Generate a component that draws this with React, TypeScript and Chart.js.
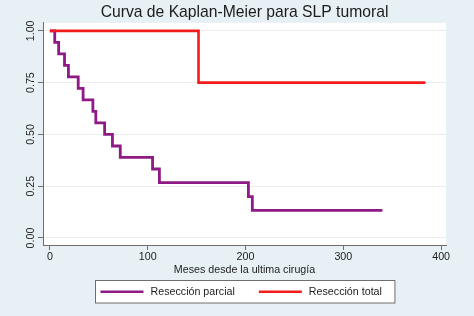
import React, { useEffect, useRef } from "react";
import { Chart, registerables } from "chart.js";

Chart.register(...registerables);

// Kaplan-Meier estimates: event times (months) and survival after each step
const parcialMeses = [0, 5, 9, 15, 19, 29, 34, 44, 47, 56, 64, 72, 105, 112, 203, 207, 340];
const parcialSupervivencia = [1, 0.944, 0.889, 0.833, 0.778, 0.722, 0.667, 0.611, 0.556, 0.5, 0.444, 0.389, 0.333, 0.267, 0.2, 0.133, 0.133];

const totalMeses = [0, 152, 384];
const totalSupervivencia = [1, 0.75, 0.75];

const xTicks = [0, 100, 200, 300, 400];
const yTicks = [0, 0.25, 0.5, 0.75, 1];

const titulo = "Curva de Kaplan-Meier para SLP tumoral";
const tituloEjeX = "Meses desde la ultima cirugía";
const etiquetas = ["Resección parcial", "Resección total"];

const PURPLE = "#8f1a86";
const RED = "#f21c1c";
const BG = "#e7f0f4";
const AXIS = "#6e6e6e";
const GRID = "#ececec";
const TEXT = "#1c1c1c";
const FAMILY = "'Liberation Sans', Arial, Helvetica, sans-serif";
const SMALL = 10.7;

const backgroundPlugin = {
  id: "fondo",
  beforeDraw(chart: any) {
    const { ctx, chartArea } = chart;
    ctx.save();
    ctx.fillStyle = BG;
    ctx.fillRect(0, 0, chart.width, chart.height);
    ctx.fillStyle = "#ffffff";
    ctx.fillRect(chartArea.left, chartArea.top, chartArea.right - chartArea.left, chartArea.bottom - chartArea.top);
    ctx.restore();
  },
};

const legendPlugin = {
  id: "leyendaCaja",
  afterDraw(chart: any) {
    const { ctx, chartArea } = chart;
    const ds = chart.data.datasets;
    ctx.save();
    ctx.font = `${SMALL}px ${FAMILY}`;
    const w0 = ctx.measureText(ds[0].label).width;
    const w1 = ctx.measureText(ds[1].label).width;
    const padL = 5, padR = 13, key = 43, gapKey = 7, gapItem = 24;
    const boxW = padL + key + gapKey + w0 + gapItem + key + gapKey + w1 + padR;
    const boxH = 22.5;
    const cx = (chartArea.left + chartArea.right) / 2;
    const left = Math.round(cx - boxW / 2) + 0.5;
    const top = chart.height - 35.5;
    ctx.fillStyle = "#ffffff";
    ctx.fillRect(left, top, boxW, boxH);
    ctx.strokeStyle = AXIS;
    ctx.lineWidth = 1;
    ctx.strokeRect(left, top, boxW, boxH);
    const midY = top + boxH / 2;
    let x = left + padL;
    [0, 1].forEach((i) => {
      ctx.strokeStyle = ds[i].borderColor;
      ctx.lineWidth = 2.7;
      ctx.beginPath();
      ctx.moveTo(x, midY);
      ctx.lineTo(x + key, midY);
      ctx.stroke();
      x += key + gapKey;
      ctx.fillStyle = TEXT;
      ctx.textBaseline = "middle";
      ctx.textAlign = "left";
      ctx.fillText(ds[i].label, x, midY);
      x += (i === 0 ? w0 : w1) + gapItem;
    });
    ctx.restore();
  },
};

export default function App() {
  const ref = useRef<HTMLCanvasElement>(null);

  useEffect(() => {
    document.body.style.margin = "0";
    document.body.style.background = BG;
    const canvas = ref.current;
    if (!canvas) return;
    const font = { family: FAMILY, size: SMALL };
    const chart = new Chart(canvas, {
      type: "line",
      data: {
        datasets: [
          {
            label: etiquetas[0],
            data: parcialMeses.map((m, i) => ({ x: m, y: parcialSupervivencia[i] })),
            borderColor: PURPLE,
            backgroundColor: PURPLE,
            borderWidth: 2.8,
            stepped: "before",
            pointRadius: 0,
            fill: false,
            order: 1,
          },
          {
            label: etiquetas[1],
            data: totalMeses.map((m, i) => ({ x: m, y: totalSupervivencia[i] })),
            borderColor: RED,
            backgroundColor: RED,
            borderWidth: 2.6,
            stepped: "before",
            pointRadius: 0,
            fill: false,
            order: 0,
          },
        ],
      },
      options: {
        animation: false,
        responsive: false,
        maintainAspectRatio: false,
        layout: { padding: { left: 0, right: 28, top: 0, bottom: 39.6 } },
        plugins: {
          legend: { display: false },
          tooltip: { enabled: false },
          title: {
            display: true,
            text: titulo,
            color: TEXT,
            fullSize: false,
            font: { family: FAMILY, size: 15.7, weight: "normal" },
            padding: { top: 3, bottom: 1 },
          },
        },
        scales: {
          x: {
            type: "linear",
            min: -7,
            max: 405,
            afterBuildTicks: (s: any) => {
              s.ticks = xTicks.map((v) => ({ value: v }));
            },
            afterFit: (s: any) => {
              s.height = 31.4;
            },
            grid: { drawOnChartArea: false, drawTicks: true, tickLength: 5, tickColor: AXIS },
            border: { color: AXIS, width: 1 },
            ticks: { font, color: TEXT, padding: 1, maxRotation: 0 },
            title: { display: true, text: tituloEjeX, font, color: TEXT, padding: 0 },
          },
          y: {
            type: "linear",
            min: -7 / 207,
            max: 1 + 8 / 207,
            afterBuildTicks: (s: any) => {
              s.ticks = yTicks.map((v) => ({ value: v }));
            },
            afterFit: (s: any) => {
              s.width = 43;
            },
            grid: { color: GRID, lineWidth: 1, drawTicks: true, tickLength: 5, tickColor: AXIS },
            border: { color: AXIS, width: 1 },
            ticks: {
              font,
              color: TEXT,
              minRotation: 90,
              maxRotation: 90,
              crossAlign: "center",
              padding: -3,
              callback: (v: any) => Number(v).toFixed(2),
            },
          },
        },
      },
      plugins: [backgroundPlugin, legendPlugin],
    } as any);
    return () => chart.destroy();
  }, []);

  return (
    <div style={{ width: 474, height: 316, background: BG }}>
      <canvas ref={ref} width={474} height={316} style={{ display: "block", width: 474, height: 316 }} />
    </div>
  );
}
